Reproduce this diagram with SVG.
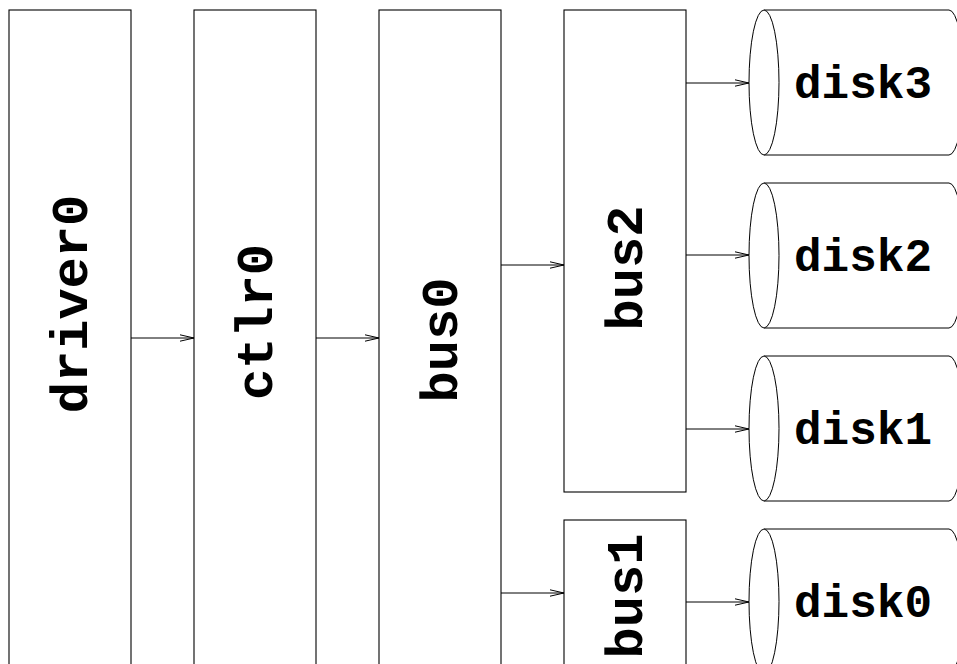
<svg xmlns="http://www.w3.org/2000/svg" width="957" height="664" viewBox="0 0 957 664">
<style>
.box{fill:#fff;stroke:#000;stroke-width:1.1}
.cyl{fill:#fff;stroke:#000;stroke-width:1}
.lbl{font-family:"Liberation Mono","DejaVu Sans Mono",monospace;font-weight:bold;fill:#000}
.vl{font-size:52px;text-anchor:middle}
.dl{font-size:46px;text-anchor:middle}
.edge{stroke:#000;stroke-width:1;fill:none;marker-end:url(#arr)}
</style>
<defs>
<marker id="arr" viewBox="0 0 14 8" refX="14" refY="4" markerWidth="14" markerHeight="8" markerUnits="userSpaceOnUse" orient="auto">
<path d="M0,0.8 L14,4 L0,7.2" fill="none" stroke="#000" stroke-width="1"/>
</marker>
</defs>
<rect width="957" height="664" fill="#fff"/>
<g id="driver0"><rect class="box" x="9" y="10" width="122" height="700"/><text class="lbl vl" transform="translate(87,304) rotate(-90)">driver0</text></g>
<g id="ctlr0"><rect class="box" x="194" y="10" width="122" height="700"/><text class="lbl vl" transform="translate(272,322) rotate(-90)">ctlr0</text></g>
<g id="bus0"><rect class="box" x="379" y="10" width="122" height="700"/><text class="lbl vl" transform="translate(457,340) rotate(-90)">bus0</text></g>
<g id="bus2"><rect class="box" x="564" y="10" width="122" height="482"/><text class="lbl vl" transform="translate(642,268) rotate(-90)">bus2</text></g>
<g id="bus1"><rect class="box" x="564" y="520" width="122" height="200"/><text class="lbl vl" transform="translate(642,596) rotate(-90)">bus1</text></g>
<g id="disk3"><path class="cyl" d="M764,10 L949,10 A15,72.5 0 0 1 949,155 L764,155 Z"/><ellipse class="cyl" cx="764" cy="82.5" rx="15" ry="72.5"/><text class="lbl dl" x="863" y="98">disk3</text></g>
<g id="disk2"><path class="cyl" d="M764,183 L949,183 A15,72.5 0 0 1 949,328 L764,328 Z"/><ellipse class="cyl" cx="764" cy="255.5" rx="15" ry="72.5"/><text class="lbl dl" x="863" y="271">disk2</text></g>
<g id="disk1"><path class="cyl" d="M764,356 L949,356 A15,72.5 0 0 1 949,501 L764,501 Z"/><ellipse class="cyl" cx="764" cy="428.5" rx="15" ry="72.5"/><text class="lbl dl" x="863" y="444">disk1</text></g>
<g id="disk0"><path class="cyl" d="M764,529 L949,529 A15,72.5 0 0 1 949,674 L764,674 Z"/><ellipse class="cyl" cx="764" cy="601.5" rx="15" ry="72.5"/><text class="lbl dl" x="863" y="617">disk0</text></g>
<g id="connectors">
<line class="edge" x1="131" y1="338" x2="194" y2="338"/>
<line class="edge" x1="316" y1="338" x2="379" y2="338"/>
<line class="edge" x1="501" y1="265" x2="564" y2="265"/>
<line class="edge" x1="501" y1="593" x2="564" y2="593"/>
<line class="edge" x1="686" y1="83" x2="749" y2="83"/>
<line class="edge" x1="686" y1="255" x2="749" y2="255"/>
<line class="edge" x1="686" y1="429" x2="749" y2="429"/>
<line class="edge" x1="686" y1="602" x2="749" y2="602"/>
</g>
</svg>
